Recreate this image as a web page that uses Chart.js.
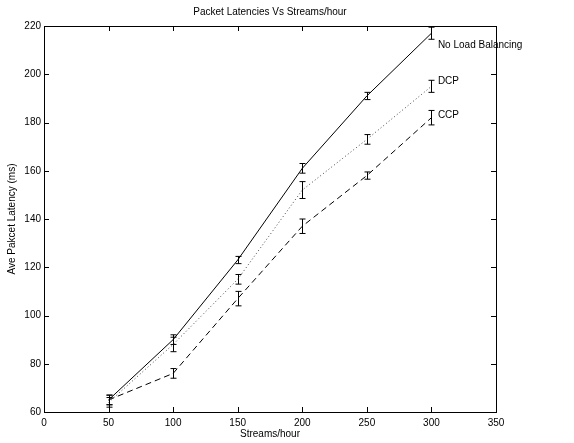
<!DOCTYPE html>
<html>
<head>
<meta charset="utf-8">
<script src="https://cdn.jsdelivr.net/npm/chart.js@4/dist/chart.umd.min.js"></script>
<style>
  html, body { margin: 0; padding: 0; background: #fff; }
  canvas { display: block; }
</style>
</head>
<body>
<canvas id="chart" width="574" height="443"></canvas>
<script>
// streams per hour on the x axis
const streams = [50, 100, 150, 200, 250, 300];

// average packet latency (ms) per scheme
const noLoadBalancing = [65, 90, 123, 161, 191, 217];
const dcp = [64, 88, 115, 152, 173, 195];
const ccp = [65, 76, 107, 137, 158, 182];

// half-height of each error bar (ms)
const noLoadBalancingErr = [2, 2, 1.5, 2, 1.5, 2.5];
const dcpErr = [2, 3, 2, 3.5, 2, 2.5];
const ccpErr = [2, 2, 3, 3, 1.5, 3];

// text labels next to the last points
const seriesNames = ['No Load Balancing', 'DCP', 'CCP'];
const labelX = 305;
const labelY = [212, 197, 183];

const xTicks = [0, 50, 100, 150, 200, 250, 300, 350];
const yTicks = [60, 80, 100, 120, 140, 160, 180, 200, 220];

const FONT = '"Liberation Sans", Arial, Helvetica, sans-serif';
Chart.defaults.font.family = FONT;
Chart.defaults.font.size = 10;
Chart.defaults.color = '#000';

const toPoints = (ys) => streams.map((x, i) => ({ x: x, y: ys[i] }));

const series = [
  { name: seriesNames[0], values: noLoadBalancing, err: noLoadBalancingErr, dash: [], color: '#000' },
  { name: seriesNames[1], values: dcp, err: dcpErr, dash: [1, 2.5], color: '#444' },
  { name: seriesNames[2], values: ccp, err: ccpErr, dash: [6, 4], color: '#000' },
];

const decorations = {
  id: 'decorations',
  afterDatasetsDraw(chart) {
    const ctx = chart.ctx;
    const xs = chart.scales.x;
    const ys = chart.scales.y;
    const area = chart.chartArea;

    ctx.save();
    // error bars
    ctx.strokeStyle = '#000';
    ctx.lineWidth = 1;
    ctx.setLineDash([]);
    series.forEach((s) => {
      streams.forEach((x, i) => {
        const px = Math.round(xs.getPixelForValue(x)) + 0.5;
        const top = ys.getPixelForValue(s.values[i] + s.err[i]);
        const bot = ys.getPixelForValue(s.values[i] - s.err[i]);
        ctx.beginPath();
        ctx.moveTo(px, top);
        ctx.lineTo(px, bot);
        ctx.moveTo(px - 3, top);
        ctx.lineTo(px + 3, top);
        ctx.moveTo(px - 3, bot);
        ctx.lineTo(px + 3, bot);
        ctx.stroke();
      });
    });

    // box around the plot
    ctx.lineWidth = 1;
    ctx.strokeRect(Math.round(area.left) + 0.5, Math.round(area.top) + 0.5,
      Math.round(area.right - area.left), Math.round(area.bottom - area.top));

    // inward tick marks on all four sides
    const tl = 5;
    ctx.beginPath();
    xTicks.forEach((v) => {
      const px = Math.round(xs.getPixelForValue(v)) + 0.5;
      ctx.moveTo(px, area.bottom);
      ctx.lineTo(px, area.bottom - tl);
      ctx.moveTo(px, area.top);
      ctx.lineTo(px, area.top + tl);
    });
    yTicks.forEach((v) => {
      const py = Math.round(ys.getPixelForValue(v)) + 0.5;
      ctx.moveTo(area.left, py);
      ctx.lineTo(area.left + tl, py);
      ctx.moveTo(area.right, py);
      ctx.lineTo(area.right - tl, py);
    });
    ctx.stroke();

    // series names
    ctx.fillStyle = '#000';
    ctx.font = '10px ' + FONT;
    ctx.textAlign = 'left';
    ctx.textBaseline = 'middle';
    series.forEach((s, i) => {
      ctx.fillText(s.name, xs.getPixelForValue(labelX), ys.getPixelForValue(labelY[i]));
    });

    // title, centred over the plot
    ctx.textAlign = 'center';
    ctx.fillText('Packet Latencies Vs Streams/hour', (area.left + area.right) / 2, 12);
    ctx.restore();
  }
};

new Chart(document.getElementById('chart'), {
  type: 'line',
  data: {
    datasets: series.map((s) => ({
      label: s.name,
      data: toPoints(s.values),
      borderColor: s.color,
      borderWidth: 1,
      borderDash: s.dash,
      pointRadius: 0,
      tension: 0,
      fill: false,
    })),
  },
  options: {
    responsive: false,
    animation: false,
    devicePixelRatio: 1,
    layout: { padding: { top: 26, right: 78, left: 0, bottom: 0 } },
    plugins: {
      legend: { display: false },
      title: { display: false },
      tooltip: { enabled: false },
    },
    scales: {
      x: {
        type: 'linear',
        min: 0,
        max: 350,
        afterBuildTicks: (scale) => { scale.ticks = xTicks.map((v) => ({ value: v })); },
        afterFit: (scale) => { scale.height = 31; },
        ticks: { padding: 5, maxRotation: 0, color: '#000' },
        grid: { display: false, drawTicks: false },
        border: { display: false },
        title: { display: true, text: 'Streams/hour', padding: { top: 0, bottom: 3 }, color: '#000' },
      },
      y: {
        type: 'linear',
        min: 60,
        max: 220,
        afterBuildTicks: (scale) => { scale.ticks = yTicks.map((v) => ({ value: v })); },
        afterFit: (scale) => { scale.width = 44; },
        ticks: { padding: 3, color: '#000' },
        grid: { display: false, drawTicks: false },
        border: { display: false },
        title: { display: true, text: 'Ave Pakcet Latency (ms)', padding: { top: 6, bottom: 0 }, color: '#000' },
      },
    },
  },
  plugins: [decorations],
});
</script>
</body>
</html>
